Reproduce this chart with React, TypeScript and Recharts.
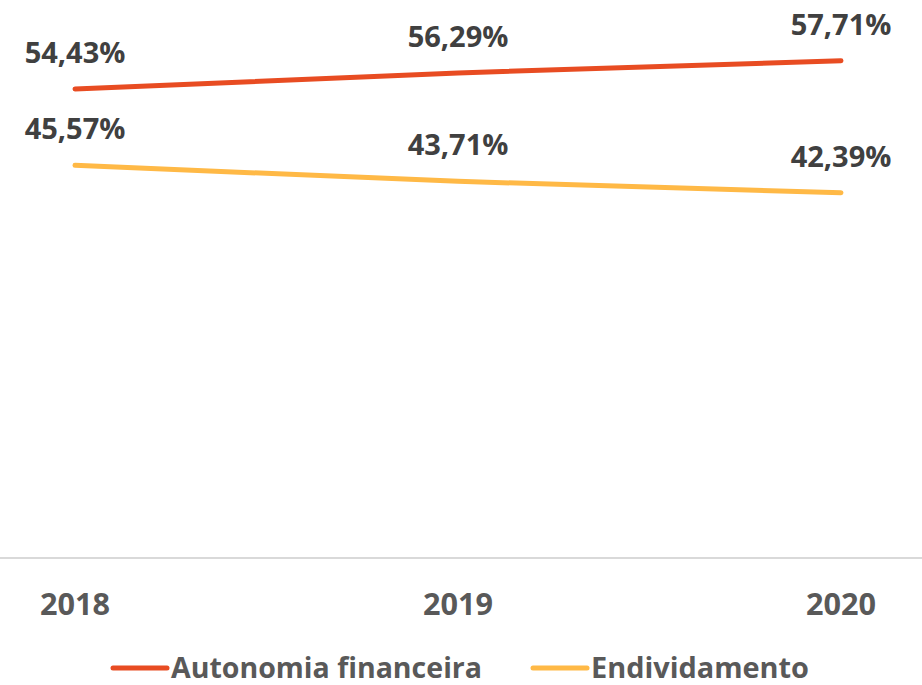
import React from 'react';
import { LineChart, Line, XAxis, YAxis, Legend, LabelList } from 'recharts';

const years = ['2018', '2019', '2020'];
const autonomia = [54.43, 56.29, 57.71];
const endividamento = [45.57, 43.71, 42.39];
const seriesNames = ['Autonomia financeira', 'Endividamento'];
const colors = ['#E84C22', '#FFB946'];

const data = years.map((y, i) => ({ year: y, a: autonomia[i], e: endividamento[i] }));

const fmt = (v: number) => v.toFixed(2).replace('.', ',') + '%';

const Tick = (props: any) => {
  const { x, y, payload } = props;
  return (
    <text x={x} y={y} dy={23} textAnchor="middle" fill="#595959"
      fontFamily="'Open Sans', sans-serif" fontWeight="bold" fontSize={31}
      textLength={70} lengthAdjust="spacingAndGlyphs">
      {payload.value}
    </text>
  );
};

const DataLabel = (props: any) => {
  const { x, y, value } = props;
  return (
    <text x={x} y={y - 26} textAnchor="middle" fill="#404040"
      fontFamily="'Open Sans', sans-serif" fontWeight="bold" fontSize={29}>
      {fmt(value)}
    </text>
  );
};

const LegendContent = () => (
  <svg width={922} height={40} style={{ display: 'block' }}>
    <line x1={113} x2={167} y1={23} y2={23} stroke={colors[0]} strokeWidth={5} strokeLinecap="round" />
    <text x={171} y={33} fill="#595959" fontFamily="'Open Sans', sans-serif"
      fontWeight="bold" fontSize={29} textLength={311} lengthAdjust="spacingAndGlyphs">{seriesNames[0]}</text>
    <line x1={533} x2={587} y1={23} y2={23} stroke={colors[1]} strokeWidth={5} strokeLinecap="round" />
    <text x={591} y={33} fill="#595959" fontFamily="'Open Sans', sans-serif"
      fontWeight="bold" fontSize={29} textLength={218} lengthAdjust="spacingAndGlyphs">{seriesNames[1]}</text>
  </svg>
);

export default function App() {
  return (
    <div style={{ position: 'absolute', left: 0, top: 0, width: 922, height: 685, background: '#fff' }}>
      <LineChart width={922} height={685} data={data} margin={{ top: 41, right: 0, bottom: 0, left: 0 }}>
        <XAxis dataKey="year" padding={{ left: 75, right: 81 }} axisLine={{ stroke: '#D9D9D9', strokeWidth: 2 }}
          tickLine={false} tickSize={0} tickMargin={34} height={127} tick={<Tick />} interval={0} />
        <YAxis hide domain={[0, 60]} />
        <Legend layout="horizontal" verticalAlign="middle" align="center" content={<LegendContent />}
          wrapperStyle={{ top: 645, left: 0, width: 922, height: 40 }} />
        <Line dataKey="a" name={seriesNames[0]} stroke={colors[0]} strokeWidth={5} dot={false}
          strokeLinecap="round" isAnimationActive={false}>
          <LabelList dataKey="a" content={<DataLabel />} />
        </Line>
        <Line dataKey="e" name={seriesNames[1]} stroke={colors[1]} strokeWidth={5} dot={false}
          strokeLinecap="round" isAnimationActive={false}>
          <LabelList dataKey="e" content={<DataLabel />} />
        </Line>
      </LineChart>
    </div>
  );
}
